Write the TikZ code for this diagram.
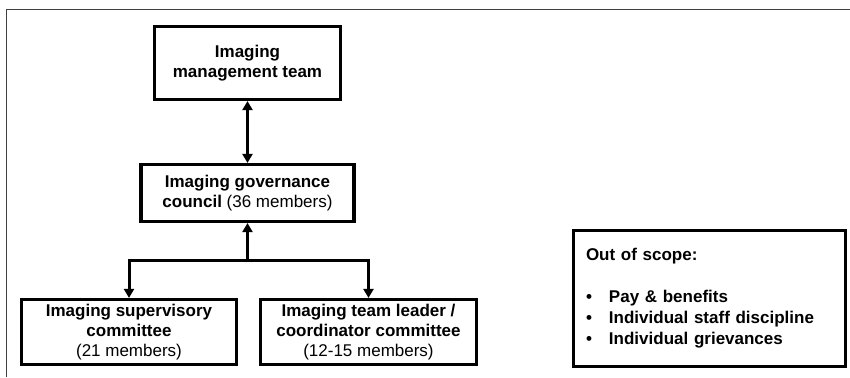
\documentclass[tikz,border=0pt]{standalone}
\usepackage{fontspec}
\setmainfont{Liberation Sans}
\usetikzlibrary{arrows.meta}
\tikzset{
  orgbox/.style={draw, line width=3.2pt, align=center, inner sep=0pt,
    font=\fontsize{17}{20}\selectfont},
  link/.style={line width=3pt, >={Triangle[width=10pt,length=9pt]}},
}
\newcommand\bul{\makebox[23pt][l]{\textbullet}}

\begin{document}
\begin{tikzpicture}[x=1pt, y=-1pt]
	\useasboundingbox (0,0) rectangle (850,377);
	% page frame
	\draw[black!75, line width=1pt] (6,377) -- (6,10) -- (850,10);
	% the boxes
	\node[orgbox, minimum width=186pt, minimum height=73pt] (mgmt) at (247.5,63)
		{\bfseries Imaging\\\bfseries management team};
	\node[orgbox, minimum width=213pt, minimum height=57pt] (council) at (247.5,193)
		{\bfseries Imaging governance\\\textbf{council} (36 members)};
	\node[orgbox, minimum width=215pt, minimum height=65pt] (sup) at (129,332)
		{\bfseries Imaging supervisory\\\bfseries committee\\(21 members)};
	\node[orgbox, minimum width=216pt, minimum height=65pt] (lead) at (368.5,332)
		{\bfseries Imaging team leader /\\\bfseries coordinator committee\\(12-15 members)};
	\node[orgbox, minimum width=272pt, minimum height=136pt, align=left, text width=247pt,
		font=\fontsize{17}{21}\selectfont\bfseries] (scope) at (709.5,298.5)
		{Out of scope:\\[21pt]\bul Pay \& benefits\\\bul Individual staff discipline\\\bul Individual grievances};
	% connectors
	\coordinate (split) at (247.5,260);
	\draw[link, <->] (mgmt) -- (council);
	\draw[link, ->] (split) -- (council);
	\draw[link, ->] (split) -| (sup);
	\draw[link, ->] (split) -| (lead);
\end{tikzpicture}
\end{document}
